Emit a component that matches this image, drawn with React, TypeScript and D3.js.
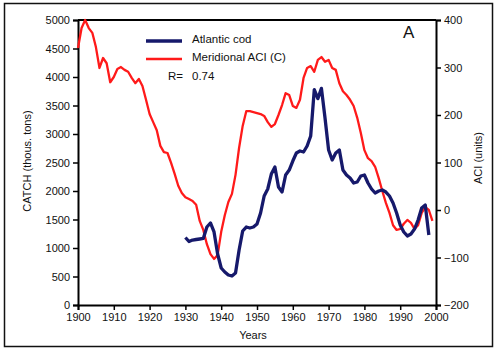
import React, { useRef, useEffect } from 'react';
import * as d3 from 'd3';

// Meridional ACI, annual, 1900-1999 (right axis)
const aciYears = d3.range(1900, 2000);
const aciValues = [
  341, 383, 400, 383, 373, 343, 299, 320, 309, 269,
  280, 297, 301, 295, 291, 278, 267, 276, 261, 232,
  202, 185, 168, 135, 122, 120, 99, 76, 51, 36,
  27, 23, 19, 11, -23, -42, -72, -93, -103, -95,
  -46, -11, 17, 34, 74, 131, 177, 208, 208, 206,
  204, 202, 198, 185, 175, 181, 200, 221, 246, 242,
  219, 215, 232, 278, 299, 303, 291, 316, 322, 312,
  316, 299, 295, 267, 250, 242, 232, 219, 194, 162,
  126, 109, 103, 91, 67, 40, 15, -6, -32, -42,
  -40, -29, -21, -27, -40, -32, -6, 6, 0, -23,
];

// Atlantic cod catch, thous. tons, 1930-1998 (left axis)
const codYears = d3.range(1930, 1999);
const codCatch = [
  1184, 1114, 1140, 1149, 1158, 1167, 1368, 1439, 1281, 895,
  649, 579, 526, 509, 561, 965, 1298, 1368, 1351, 1368,
  1421, 1614, 1912, 2035, 2298, 2421, 2070, 1982, 2281, 2368,
  2526, 2667, 2702, 2684, 2789, 2965, 3780, 3620, 3800, 3281,
  2719, 2544, 2667, 2719, 2368, 2281, 2228, 2140, 2158, 2263,
  2281, 2140, 2035, 1965, 2000, 2018, 1982, 1912, 1789, 1614,
  1404, 1281, 1211, 1246, 1333, 1491, 1702, 1754, 1228,
];

const yearTicks = [1900, 1910, 1920, 1930, 1940, 1950, 1960, 1970, 1980, 1990, 2000];
const catchTicks = [0, 500, 1000, 1500, 2000, 2500, 3000, 3500, 4000, 4500, 5000];
const aciTicks = [-200, -100, 0, 100, 200, 300, 400];

const W = 500;
const H = 352;
const m = { left: 78, right: 436, top: 20, bottom: 305 };
const font = 'Arial, "Liberation Sans", sans-serif';
const navy = '#16196b';
const red = '#ff1a1a';

export default function App() {
  const svgRef = useRef<SVGSVGElement>(null);

  useEffect(() => {
    const svg = d3.select(svgRef.current);
    svg.selectAll('*').remove();

    const x = d3.scaleLinear().domain([1900, 2000]).range([m.left, m.right]);
    const yL = d3.scaleLinear().domain([0, 5000]).range([m.bottom, m.top]);
    const yR = d3.scaleLinear().domain([-200, 400]).range([m.bottom, m.top]);

    // outer frame
    svg
      .append('rect')
      .attr('x', 4.5)
      .attr('y', 3.5)
      .attr('width', 488)
      .attr('height', 343)
      .attr('fill', 'white')
      .attr('stroke', '#111')
      .attr('stroke-width', 1.5);

    // top border of the plot
    svg
      .append('line')
      .attr('x1', m.left)
      .attr('x2', m.right)
      .attr('y1', m.top)
      .attr('y2', m.top)
      .attr('stroke', '#000')
      .attr('stroke-width', 2);

    const styleAxis = (g: any) => {
      g.select('.domain').attr('stroke', '#000').attr('stroke-width', 2);
      g.selectAll('.tick line').attr('stroke', '#000').attr('stroke-width', 1.5);
      g.selectAll('.tick text')
        .attr('fill', '#111')
        .style('font-family', font)
        .style('font-size', '11px');
    };

    // bottom axis
    svg
      .append('g')
      .attr('transform', `translate(0,${m.bottom})`)
      .call(
        d3.axisBottom(x).tickValues(yearTicks).tickFormat(d3.format('d')).tickSizeOuter(0).tickSize(5).tickPadding(3)
      )
      .call(styleAxis);

    // left axis
    svg
      .append('g')
      .attr('transform', `translate(${m.left},0)`)
      .call(d3.axisLeft(yL).tickValues(catchTicks).tickFormat(d3.format('d')).tickSizeOuter(0).tickSize(5).tickPadding(3))
      .call(styleAxis);

    // right axis
    svg
      .append('g')
      .attr('transform', `translate(${m.right},0)`)
      .call(d3.axisRight(yR).tickValues(aciTicks).tickFormat(d3.format('d')).tickSizeOuter(0).tickSize(5).tickPadding(3))
      .call(styleAxis);

    // series
    const redLine = d3
      .line<number>()
      .x((_, i) => x(aciYears[i]))
      .y((d) => yR(d));
    const codLine = d3
      .line<number>()
      .x((_, i) => x(codYears[i]))
      .y((d) => yL(d));

    svg
      .append('path')
      .attr('d', redLine(aciValues))
      .attr('fill', 'none')
      .attr('stroke', red)
      .attr('stroke-width', 2.3)
      .attr('stroke-linejoin', 'round');

    svg
      .append('path')
      .attr('d', codLine(codCatch))
      .attr('fill', 'none')
      .attr('stroke', navy)
      .attr('stroke-width', 3.3)
      .attr('stroke-linejoin', 'round');

    // axis titles
    const text = (tx: number, ty: number, s: string, size = 11, anchor = 'start') =>
      svg
        .append('text')
        .attr('x', tx)
        .attr('y', ty)
        .attr('text-anchor', anchor)
        .attr('fill', '#111')
        .style('font-family', font)
        .style('font-size', `${size}px`)
        .text(s);

    text(0, 0, 'CATCH (thous. tons)', 11, 'middle').attr('transform', 'translate(31,161) rotate(-90)');
    text(0, 0, 'ACI (units)', 11, 'middle').attr('transform', 'translate(482,158) rotate(-90)');
    text(253, 339, 'Years', 11, 'middle');
    text(403, 38, 'A', 17);

    // legend
    svg.append('line').attr('x1', 146).attr('x2', 182).attr('y1', 41).attr('y2', 41)
      .attr('stroke', navy).attr('stroke-width', 3.3);
    svg.append('line').attr('x1', 146).attr('x2', 182).attr('y1', 59).attr('y2', 59)
      .attr('stroke', red).attr('stroke-width', 2.3);
    text(192, 43, 'Atlantic cod', 11.5);
    text(192, 61, 'Meridional ACI (C)', 11.5);
    text(168, 80, 'R=', 11.5);
    text(192, 80, '0.74', 11.5);
  }, []);

  return (
    <svg
      ref={svgRef}
      width={W}
      height={H}
      style={{ position: 'absolute', left: 0, top: 0, background: 'white' }}
    />
  );
}
